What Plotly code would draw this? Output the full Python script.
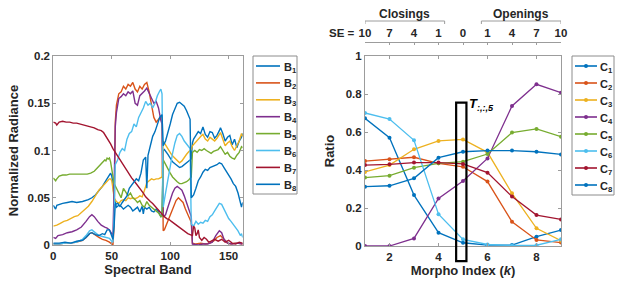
import plotly.graph_objects as go

# ---------------- Left panel: spectral signatures (band, normalized radiance) ----------------
B1 = [(0,0.042),(1,0.040),(2,0.038),(3,0.042),(5,0.043),(8,0.044),(12,0.045),(16,0.046),(20,0.045),(25,0.046),
      (30,0.048),(33,0.050),(36,0.053),(39,0.057),(42,0.062),(45,0.068),(47,0.072),(48,0.075),(49,0.076),(50,0.073),
      (51,0.065),(52,0.050),(53,0.043),(54,0.040),(56,0.042),(58,0.041),(60,0.038),(62,0.040),(64,0.042),(66,0.040),
      (68,0.036),(70,0.038),(72,0.040),(74,0.035),(76,0.041),(77,0.033),(78,0.040),(80,0.038),(82,0.040),(84,0.036),
      (86,0.035),(88,0.038),(90,0.035),(92,0.030),(93,0.031),(94,0.100),(95,0.101),(98,0.096),(100,0.092),(102,0.088),
      (104,0.086),(106,0.084),(108,0.082),(110,0.083),(112,0.085),(114,0.087),(116,0.089),(117,0.090),(118,0.091),
      (119,0.108),(120,0.112),(122,0.116),(124,0.120),(126,0.118),(128,0.125),(130,0.117),(132,0.114),(134,0.120),
      (136,0.119),(138,0.113),(140,0.116),(142,0.121),(143,0.124),(145,0.118),(147,0.110),(149,0.114),(151,0.116),
      (153,0.106),(155,0.112),(157,0.103),(159,0.110),(161,0.114),(162,0.118)]
B2 = [(0,0.001),(5,0.001),(10,0.002),(15,0.002),(20,0.003),(25,0.005),(28,0.008),(31,0.012),(33,0.013),(36,0.010),
      (39,0.008),(42,0.006),(45,0.005),(48,0.003),(50,0.001),(51,0.000),(52,0.020),(53,0.130),(54,0.148),(56,0.160),
      (58,0.162),(60,0.168),(62,0.165),(64,0.170),(66,0.168),(68,0.172),(70,0.165),(72,0.162),(74,0.168),(76,0.165),
      (78,0.170),(80,0.172),(82,0.162),(84,0.150),(86,0.135),(88,0.130),(90,0.133),(92,0.136),(93,0.134),(94,0.015),
      (95,0.016),(97,0.022),(99,0.030),(101,0.036),(103,0.042),(105,0.047),(107,0.050),(109,0.048),(111,0.045),
      (113,0.038),(115,0.032),(117,0.026),(118,0.024),(119,0.002),(122,0.001),(126,0.002),(130,0.001),(134,0.002),
      (137,0.004),(140,0.008),(143,0.010),(146,0.006),(149,0.002),(152,0.001),(155,0.002),(158,0.002),(162,0.001)]
B3 = [(0,0.020),(3,0.021),(6,0.023),(9,0.025),(12,0.026),(15,0.028),(18,0.030),(21,0.031),(24,0.034),(27,0.037),
      (30,0.041),(33,0.046),(36,0.052),(39,0.058),(42,0.062),(45,0.066),(47,0.068),(48,0.070),(49,0.070),(50,0.068),
      (51,0.060),(52,0.050),(54,0.046),(56,0.044),(58,0.047),(60,0.048),(62,0.047),(64,0.050),(66,0.049),(68,0.050),
      (70,0.049),(72,0.050),(74,0.052),(76,0.051),(78,0.058),(80,0.066),(82,0.068),(84,0.070),(86,0.069),(88,0.070),
      (90,0.070),(92,0.071),(93,0.072),(94,0.110),(95,0.108),(97,0.103),(99,0.099),(101,0.096),(103,0.093),(105,0.091),
      (107,0.089),(108,0.087),(110,0.089),(112,0.093),(114,0.096),(116,0.099),(117,0.100),(118,0.101),(119,0.105),
      (121,0.108),(123,0.110),(125,0.113),(127,0.116),(128,0.117),(130,0.112),(132,0.110),(134,0.114),(136,0.112),
      (138,0.110),(140,0.113),(142,0.117),(143,0.119),(145,0.112),(147,0.105),(149,0.108),(151,0.110),(153,0.104),
      (155,0.100),(157,0.105),(159,0.110),(161,0.118),(162,0.115)]
B4 = [(0,0.008),(2,0.007),(4,0.010),(8,0.011),(12,0.013),(16,0.014),(20,0.016),(24,0.019),(28,0.025),(31,0.030),
      (33,0.032),(35,0.030),(38,0.025),(41,0.021),(44,0.019),(46,0.018),(48,0.016),(50,0.012),(51,0.010),(52,0.060),
      (53,0.125),(54,0.140),(56,0.155),(58,0.157),(60,0.160),(62,0.158),(64,0.162),(66,0.160),(68,0.163),(70,0.150),
      (72,0.148),(74,0.158),(76,0.160),(78,0.163),(80,0.166),(82,0.160),(84,0.154),(86,0.150),(88,0.152),(90,0.145),
      (92,0.132),(93,0.128),(94,0.030),(96,0.032),(98,0.040),(100,0.048),(102,0.055),(104,0.060),(106,0.062),
      (108,0.060),(110,0.058),(112,0.052),(114,0.045),(116,0.038),(117,0.034),(118,0.030),(119,0.001),(124,0.000),
      (128,0.001),(132,0.001),(136,0.003),(139,0.010),(142,0.015),(144,0.013),(146,0.006),(149,0.002),(153,0.001),
      (157,0.002),(162,0.001)]
B5 = [(0,0.071),(1,0.070),(2,0.068),(3,0.070),(5,0.073),(8,0.074),(11,0.074),(14,0.075),(17,0.075),(20,0.075),
      (23,0.075),(26,0.075),(29,0.075),(32,0.076),(35,0.078),(38,0.082),(40,0.085),(42,0.088),(44,0.090),(45,0.089),
      (46,0.092),(47,0.091),(48,0.092),(49,0.088),(50,0.080),(51,0.072),(52,0.065),(54,0.060),(56,0.055),(58,0.050),
      (60,0.060),(62,0.056),(64,0.052),(66,0.055),(68,0.050),(70,0.048),(72,0.045),(74,0.047),(76,0.042),(78,0.040),
      (80,0.046),(82,0.042),(84,0.040),(86,0.038),(88,0.036),(90,0.034),(92,0.030),(93,0.030),(94,0.090),(96,0.085),
      (98,0.080),(100,0.076),(102,0.072),(104,0.069),(106,0.067),(108,0.065),(110,0.065),(112,0.066),(114,0.067),
      (116,0.069),(117,0.070),(118,0.072),(119,0.098),(121,0.100),(123,0.098),(125,0.101),(127,0.100),(129,0.102),
      (131,0.100),(133,0.098),(135,0.097),(137,0.099),(139,0.100),(141,0.101),(143,0.104),(145,0.100),(147,0.096),
      (149,0.098),(151,0.094),(153,0.092),(155,0.091),(157,0.095),(159,0.098),(161,0.104),(162,0.103)]
B6 = [(0,0.001),(5,0.001),(10,0.002),(15,0.002),(20,0.003),(25,0.006),(28,0.010),(31,0.015),(33,0.016),(36,0.013),
      (39,0.010),(42,0.009),(45,0.008),(48,0.007),(50,0.004),(51,0.003),(52,0.030),(53,0.085),(55,0.090),(57,0.098),
      (59,0.102),(61,0.100),(63,0.112),(65,0.118),(67,0.120),(69,0.128),(71,0.125),(73,0.135),(75,0.140),(77,0.145),
      (79,0.152),(81,0.148),(83,0.150),(85,0.145),(87,0.150),(89,0.158),(91,0.163),(92,0.165),(93,0.160),(94,0.040),
      (96,0.055),(98,0.070),(100,0.085),(102,0.097),(104,0.108),(106,0.116),(108,0.118),(110,0.115),(112,0.110),
      (114,0.107),(116,0.104),(117,0.102),(118,0.022),(120,0.020),(122,0.025),(124,0.022),(126,0.024),(128,0.023),
      (130,0.026),(132,0.025),(134,0.030),(136,0.032),(138,0.036),(140,0.040),(142,0.044),(144,0.043),(146,0.038),
      (148,0.032),(150,0.028),(152,0.025),(154,0.022),(156,0.018),(158,0.015),(160,0.010),(161,0.012),(162,0.008)]
B7 = [(0,0.130),(2,0.129),(3,0.127),(5,0.130),(8,0.131),(11,0.130),(14,0.130),(17,0.129),(20,0.129),(23,0.128),
      (26,0.127),(29,0.126),(32,0.125),(35,0.124),(38,0.122),(41,0.121),(43,0.119),(45,0.115),(47,0.112),(49,0.107),
      (51,0.102),(53,0.098),(55,0.094),(57,0.090),(59,0.086),(61,0.082),(63,0.078),(65,0.075),(67,0.071),(69,0.068),
      (71,0.065),(73,0.061),(75,0.058),(77,0.055),(79,0.051),(81,0.048),(83,0.046),(85,0.044),(87,0.041),(89,0.038),
      (91,0.036),(93,0.033),(95,0.030),(97,0.028),(99,0.027),(101,0.025),(103,0.023),(105,0.021),(107,0.019),
      (109,0.017),(111,0.015),(113,0.014),(115,0.012),(117,0.011),(119,0.010),(120,0.020),(121,0.018),(122,0.010),
      (123,0.012),(124,0.016),(125,0.008),(127,0.005),(129,0.008),(131,0.006),(133,0.003),(135,0.004),(138,0.006),
      (141,0.004),(144,0.006),(147,0.003),(150,0.005),(153,0.002),(156,0.001),(159,0.003),(162,0.002)]
B8 = [(0,0.002),(5,0.002),(10,0.003),(15,0.002),(20,0.004),(25,0.005),(28,0.008),(31,0.012),(33,0.013),(36,0.011),
      (39,0.010),(42,0.012),(44,0.011),(46,0.016),(48,0.016),(50,0.010),(51,0.006),(52,0.020),(53,0.043),(55,0.044),
      (57,0.041),(59,0.045),(61,0.048),(63,0.052),(65,0.060),(67,0.063),(69,0.066),(71,0.070),(73,0.068),(75,0.076),
      (77,0.090),(79,0.093),(80,0.060),(81,0.095),(83,0.105),(85,0.115),(87,0.120),(89,0.127),(91,0.135),(93,0.138),
      (94,0.105),(96,0.110),(98,0.118),(100,0.128),(102,0.138),(104,0.145),(106,0.150),(108,0.151),(110,0.149),
      (112,0.147),(114,0.142),(116,0.136),(117,0.133),(118,0.050),(120,0.053),(122,0.060),(124,0.068),(126,0.072),
      (128,0.077),(130,0.080),(132,0.079),(134,0.082),(136,0.083),(138,0.084),(140,0.085),(142,0.087),(144,0.086),
      (146,0.082),(148,0.078),(150,0.075),(152,0.070),(154,0.065),(156,0.062),(158,0.055),(160,0.045),(161,0.040),
      (162,0.045)]
band_series = [B1, B2, B3, B4, B5, B6, B7, B8]
band_names = ["B<sub>%d</sub>" % i for i in range(1, 9)]
left_xticks = [0, 50, 100, 150]
left_yticks = [0, 0.05, 0.1, 0.15, 0.2]
left_yticklabels = ["0", "0.05", "0.1", "0.15", "0.2"]

# ---------------- Right panel: ratio vs morpho index ----------------
k_index = [1, 2, 3, 4, 5, 6, 7, 8, 9]
C1 = [0.672, 0.570, 0.268, 0.070, 0.017, 0.005, 0.005, 0.049, 0.084]
C2 = [0.447, 0.456, 0.467, 0.435, 0.417, 0.339, 0.128, 0.032, 0.018]
C3 = [0.390, 0.426, 0.509, 0.553, 0.561, 0.493, 0.277, 0.093, 0.028]
C4 = [0.000, 0.000, 0.040, 0.250, 0.342, 0.461, 0.737, 0.851, 0.807]
C5 = [0.360, 0.370, 0.412, 0.435, 0.444, 0.484, 0.597, 0.616, 0.575]
C6 = [0.700, 0.668, 0.556, 0.167, 0.035, 0.008, 0.003, 0.004, 0.035]
C7 = [0.426, 0.430, 0.439, 0.439, 0.432, 0.386, 0.260, 0.163, 0.140]
C8 = [0.312, 0.317, 0.356, 0.465, 0.496, 0.502, 0.502, 0.496, 0.482]
class_series = [C1, C2, C3, C4, C5, C6, C7, C8]
class_names = ["C<sub>%d</sub>" % i for i in range(1, 9)]
se_labels = ["10", "7", "4", "1", "0", "1", "4", "7", "10"]
right_xticks = [2, 4, 6, 8]
right_yticks = [0, 0.2, 0.4, 0.6, 0.8, 1]
right_yticklabels = ["0", "0.2", "0.4", "0.6", "0.8", "1"]
box_k = (4.72, 5.14)          # highlighted slice around k = 5
box_ratio = (-0.08, 0.755)

colors = ["#0072BD", "#D95319", "#EDB120", "#7E2F8E", "#77AC30", "#4DBEEE", "#A2142F", "#0072BD"]

W, H = 623, 283
FONT = "Liberation Sans, Arial, Helvetica, sans-serif"
TXT = "#262626"
AXC = "#9c9c9c"

def px_x(p):
    return p / W

def px_y(p):
    return 1 - p / H

fig = go.Figure()
for pts, name, c in zip(band_series, band_names, colors):
    fig.add_trace(go.Scatter(
        x=[p[0] for p in pts], y=[p[1] for p in pts], mode="lines", name=name,
        line=dict(color=c, width=1.4), xaxis="x", yaxis="y"))

for vals, name, c in zip(class_series, class_names, colors):
    fig.add_trace(go.Scatter(
        x=k_index, y=vals, mode="lines+markers", name=name,
        line=dict(color=c, width=1.3), marker=dict(color=c, size=4),
        xaxis="x2", yaxis="y2"))

# invisible trace to activate top SE axis
fig.add_trace(go.Scatter(x=k_index, y=[None] * len(k_index), xaxis="x3", yaxis="y2",
                         showlegend=False, hoverinfo="skip"))

tickfont = dict(family=FONT, size=11.5, color=TXT, weight="bold")
titlefont = dict(family=FONT, size=13, color=TXT, weight="bold")
common = dict(showline=True, linecolor=AXC, linewidth=1, mirror="ticks", ticks="inside",
              ticklen=3, tickcolor=AXC, showgrid=False, zeroline=False, tickfont=tickfont,
              automargin=False)

fig.update_layout(
    width=W, height=H, margin=dict(l=0, r=0, t=0, b=0),
    paper_bgcolor="white", plot_bgcolor="white",
    font=dict(family=FONT, color=TXT),
    showlegend=False, hovermode=False,
    xaxis=dict(domain=[px_x(53.3), px_x(242.7)], range=[0, 162], tickvals=left_xticks, anchor="y",
               title=dict(text="Spectral Band", font=titlefont, standoff=4), **common),
    yaxis=dict(domain=[px_y(245), px_y(56)], range=[0, 0.2], tickvals=left_yticks,
               ticktext=left_yticklabels, anchor="x",
               title=dict(text="Normalized Radiance", font=titlefont, standoff=6), **common),
    xaxis2=dict(domain=[px_x(365), px_x(561)], range=[1, 9], tickvals=right_xticks, anchor="y2",
                title=dict(text="Morpho Index (<i>k</i>)", font=titlefont, standoff=4), **common),
    yaxis2=dict(domain=[px_y(246), px_y(56)], range=[0, 1], tickvals=right_yticks,
                ticktext=right_yticklabels, anchor="x2",
                title=dict(text="Ratio", font=titlefont, standoff=8), **common),
    xaxis3=dict(overlaying="x2", side="top", anchor="free", position=px_y(42), range=[1, 9],
                tickvals=k_index, ticktext=se_labels, showline=True, linecolor=AXC, ticks="inside",
                ticklen=2, tickcolor=AXC, showgrid=False, zeroline=False, tickfont=tickfont,
                automargin=False),
)

# ---- legends drawn as boxed keys (layout geometry in pixels) ----
def draw_key(names, box, line_x, text_x, row0, step, with_marker):
    x0, y0, x1, y1 = box
    fig.add_shape(type="rect", xref="paper", yref="paper", x0=px_x(x0), x1=px_x(x1),
                  y0=px_y(y1), y1=px_y(y0), line=dict(color="#8c8c8c", width=1),
                  fillcolor="white", layer="above")
    for i, (name, c) in enumerate(zip(names, colors)):
        yy = row0 + i * step
        fig.add_shape(type="line", xref="paper", yref="paper", x0=px_x(line_x[0]), x1=px_x(line_x[1]),
                      y0=px_y(yy), y1=px_y(yy), line=dict(color=c, width=1.6), layer="above")
        if with_marker:
            cx = (line_x[0] + line_x[1]) / 2
            fig.add_shape(type="circle", xref="paper", yref="paper",
                          x0=px_x(cx - 2), x1=px_x(cx + 2), y0=px_y(yy + 2), y1=px_y(yy - 2),
                          line=dict(color=c, width=0), fillcolor=c, layer="above")
        fig.add_annotation(xref="paper", yref="paper", x=px_x(text_x), y=px_y(yy + 1.5),
                           xanchor="left", yanchor="middle", showarrow=False, text=name,
                           font=dict(family=FONT, size=11, color=TXT, weight="bold"))

draw_key(band_names, (253, 56, 297, 194), (256, 280), 281.5, 66, 16.9, False)
draw_key(class_names, (572, 56, 614, 195), (575, 597), 598, 66, 17.0, True)

# highlighted slice box
fig.add_shape(type="rect", xref="x2", yref="y2 domain", x0=box_k[0], x1=box_k[1],
              y0=box_ratio[0], y1=box_ratio[1], line=dict(color="black", width=2.2),
              fillcolor="rgba(0,0,0,0)", layer="above")
fig.add_annotation(xref="x2", yref="y2", x=box_k[1] + 0.02, y=box_ratio[1] - 0.01, xanchor="left",
                   yanchor="middle", showarrow=False,
                   text="<b><i>T</i></b><sub><b><i>:,:,5</i></b></sub>",
                   font=dict(family=FONT, size=13, color="black"))

# Closings / Openings brackets above the SE axis
groups = [("Closings", 1, 4.25), ("Openings", 5.75, 9)]
for label, g0, g1 in groups:
    fig.add_shape(type="line", xref="x2", yref="paper", x0=g0, x1=g1, y0=px_y(21), y1=px_y(21),
                  line=dict(color=AXC, width=1))
    for gx in (g0, g1):
        fig.add_shape(type="line", xref="x2", yref="paper", x0=gx, x1=gx, y0=px_y(21), y1=px_y(24),
                      line=dict(color=AXC, width=1))
    fig.add_annotation(xref="x2", yref="paper", x=(g0 + g1) / 2, y=px_y(14), showarrow=False,
                       text=label, font=dict(family=FONT, size=12, color=TXT, weight="bold"),
                       xanchor="center", yanchor="middle")

fig.add_annotation(xref="paper", yref="paper", x=px_x(357), y=px_y(33), showarrow=False,
                   text="SE =", xanchor="right", yanchor="middle",
                   font=dict(family=FONT, size=11.5, color=TXT, weight="bold"))

fig.write_html("out.html", config={"displayModeBar": False, "staticPlot": True},
               post_script="document.body.style.margin='0';document.body.style.overflow='hidden';")
